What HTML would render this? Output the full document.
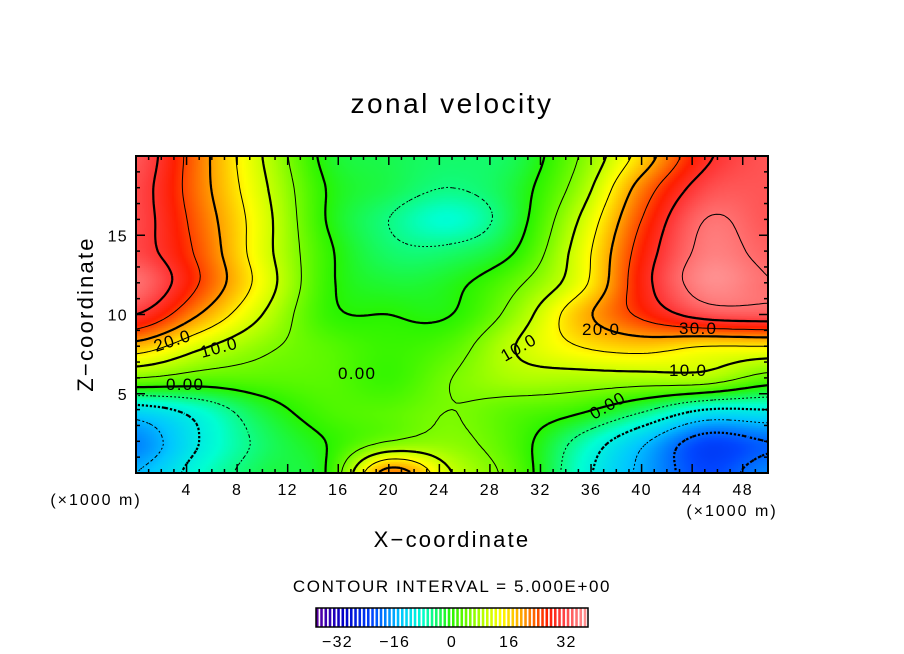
<!DOCTYPE html>
<html><head><meta charset="utf-8">
<style>
html,body{margin:0;padding:0;background:#fff;}
#wrap{position:relative;width:904px;height:654px;overflow:hidden;font-family:"Liberation Sans",sans-serif;}
canvas{position:absolute;}
svg{position:absolute;left:0;top:0;}
svg text{letter-spacing:1.3px;}
</style></head>
<body>
<div id="wrap">
<canvas id="field" width="632" height="317" style="left:136px;top:156px"></canvas>
<svg id="ov" width="904" height="654">
<text x="452" y="113" font-size="28" text-anchor="middle" style="letter-spacing:2.5px">zonal velocity</text>
<text transform="translate(93,314) rotate(-90)" font-size="22" text-anchor="middle" style="letter-spacing:2.2px">Z−coordinate</text>
<text x="452" y="547" font-size="22" text-anchor="middle" style="letter-spacing:2.2px">X−coordinate</text>
<text x="96" y="505" font-size="16" text-anchor="middle" style="letter-spacing:2px">(×1000 m)</text>
<text x="732" y="516" font-size="16" text-anchor="middle" style="letter-spacing:2px">(×1000 m)</text>
<text x="452" y="592" font-size="17" text-anchor="middle" style="letter-spacing:1.6px">CONTOUR INTERVAL = 5.000E+00</text>
<g id="contours"></g>
<g id="clabels" font-size="17">
<text transform="translate(156,352) rotate(-18)">20.0</text>
<text transform="translate(202,358) rotate(-15)">10.0</text>
<text x="166" y="390">0.00</text>
<text x="338" y="379">0.00</text>
<text transform="translate(505,362) rotate(-30)">10.0</text>
<text x="582" y="335">20.0</text>
<text x="679" y="334">30.0</text>
<text x="669" y="376">10.0</text>
<text transform="translate(594,420) rotate(-30)">0.00</text>
</g>
<rect x="136" y="156" width="632" height="317" fill="none" stroke="#000" stroke-width="2"/>
<g id="ticks"></g>
<g id="cbar"></g>
</svg>
</div>
<script>
const xCoords=[0,5,10,15,20,25,30,35,40,45,50];
const zCoords=[20,18,16,14,12,10,8,6,4,2,0];
const U=[
[33,22,10,-1,-3,-4,-3,5,17,29,33],
[32,22,11,0,-3,-5,-2,7,22,32,33],
[32,23,12,0,-5,-8,-2,10,25,35,33],
[32,24,12,1,-4,-4,0,12,27,36,34],
[35,25,13,1,-2,-1,4,13,28,37,35],
[30,20,10,1,0,0,7,18,26,32,33],
[18,11,6,3,1,3,10,15,17,15,15],
[5,3,3,3,1,5,8,8,8,8,3],
[-12,-8,-2,2,3,5,3,1,-4,-10,-10],
[-18,-10,-4,0,5,6,2,-6,-14,-22,-20],
[-15,-8,-3,0,22,10,3,-8,-16,-22,-18]];
const xTicks=[4,8,12,16,20,24,28,32,36,40,44,48];
const zTicks=[5,10,15];
const cbTicks=[-32,-16,0,16,32];
const cStops=[[-38,[96,0,160]],[-30,[0,0,200]],[-22,[0,70,255]],[-14,[0,200,255]],[-8,[0,255,210]],[0,[40,245,0]],[8,[170,255,0]],[14,[255,255,0]],[20,[255,160,0]],[27,[255,30,0]],[31,[255,60,60]],[38,[255,150,150]]];
const X0=136,X1=768,Y0=156,Y1=473,XMAX=50,ZMAX=20;
const sx=x=>X0+(X1-X0)*x/XMAX, sz=z=>Y1-(Y1-Y0)*z/ZMAX;
function color(v){
 if(v<=cStops[0][0])return cStops[0][1];
 for(let i=1;i<cStops.length;i++){if(v<=cStops[i][0]){const a=cStops[i-1],b=cStops[i];const t=(v-a[0])/(b[0]-a[0]);return a[1].map((c,k)=>Math.round(c+(b[1][k]-c)*t));}}
 return cStops[cStops.length-1][1];
}
function cr(p0,p1,p2,p3,t){return 0.5*((2*p1)+(-p0+p2)*t+(2*p0-5*p1+4*p2-p3)*t*t+(-p0+3*p1-3*p2+p3)*t*t*t);}
const nc=xCoords.length,nr=zCoords.length;
function g(r,c){r=Math.max(0,Math.min(nr-1,r));c=Math.max(0,Math.min(nc-1,c));return U[r][c];}
function sample(x,z){
 const fx=x/(xCoords[1]-xCoords[0]), fr=(zCoords[0]-z)/(zCoords[0]-zCoords[1]);
 const c=Math.min(nc-2,Math.floor(fx)), r=Math.min(nr-2,Math.floor(fr));
 const tx=fx-c, tr=fr-r; const rows=[];
 for(let k=-1;k<=2;k++)rows.push(cr(g(r+k,c-1),g(r+k,c),g(r+k,c+1),g(r+k,c+2),tx));
 return cr(rows[0],rows[1],rows[2],rows[3],tr);
}
const cv=document.getElementById('field'),ctx=cv.getContext('2d');
const W=632,H=317,img=ctx.createImageData(W,H);
for(let py=0;py<H;py+=2)for(let px=0;px<W;px+=2){
 const v=sample(px/W*XMAX,(1-py/H)*ZMAX),c=color(v);
 for(let dy=0;dy<2&&py+dy<H;dy++)for(let dx=0;dx<2&&px+dx<W;dx++){const o=((py+dy)*W+px+dx)*4;img.data[o]=c[0];img.data[o+1]=c[1];img.data[o+2]=c[2];img.data[o+3]=255;}
}
ctx.putImageData(img,0,0);
const NS='http://www.w3.org/2000/svg';
const st=4,NX=Math.floor(W/st)+1,NY=Math.floor(H/st)+1;const V=[];
for(let j=0;j<NY;j++){V.push([]);for(let i=0;i<NX;i++){const px=Math.min(W,i*st),py=Math.min(H,j*st);V[j].push(sample(px/W*XMAX,(1-py/H)*ZMAX));}}
const cg=document.getElementById('contours');
for(let L=-35;L<=35;L+=5){
 let d='';
 for(let j=0;j<NY-1;j++)for(let i=0;i<NX-1;i++){
  const px0=X0+Math.min(W,i*st),px1=X0+Math.min(W,(i+1)*st),py0=Y0+Math.min(H,j*st),py1=Y0+Math.min(H,(j+1)*st);
  const a=V[j][i],b=V[j][i+1],c=V[j+1][i+1],e=V[j+1][i];
  const pts=[];
  if((a<L)!==(b<L))pts.push([px0+(px1-px0)*(L-a)/(b-a),py0]);
  if((b<L)!==(c<L))pts.push([px1,py0+(py1-py0)*(L-b)/(c-b)]);
  if((e<L)!==(c<L))pts.push([px0+(px1-px0)*(L-e)/(c-e),py1]);
  if((a<L)!==(e<L))pts.push([px0,py0+(py1-py0)*(L-a)/(e-a)]);
  for(let k=0;k+1<pts.length;k+=2)d+='M'+pts[k][0].toFixed(1)+' '+pts[k][1].toFixed(1)+'L'+pts[k+1][0].toFixed(1)+' '+pts[k+1][1].toFixed(1);
 }
 if(!d)continue;
 const p=document.createElementNS(NS,'path');
 
 
 p.setAttribute('d',d);p.setAttribute('fill','none');p.setAttribute('stroke','#000');
 p.setAttribute('stroke-width',L%10===0?2.2:1);
 if(L<0)p.setAttribute('stroke-dasharray',L%10===0?'2.2,1.8':'1.8,2.2');
 cg.appendChild(p);
}
const tg=document.getElementById('ticks');
function line(x1,y1,x2,y2,w,name){const l=document.createElementNS(NS,'line');l.setAttribute('x1',x1);l.setAttribute('y1',y1);l.setAttribute('x2',x2);l.setAttribute('y2',y2);l.setAttribute('stroke','#000');l.setAttribute('stroke-width',w);
 
 
 tg.appendChild(l);}
function txt(x,y,s,name,parent,anchor){const t=document.createElementNS(NS,'text');t.setAttribute('x',x);t.setAttribute('y',y);t.setAttribute('font-size','16');t.setAttribute('text-anchor',anchor||'middle');t.textContent=s;
 
 
 parent.appendChild(t);}
for(let x=1;x<XMAX;x++){const len=x%4===0?9:4;line(sx(x),Y1,sx(x),Y1-len,1.5,'x-tick');line(sx(x),Y0,sx(x),Y0+len,1.5,'x-tick-top');}
for(let z=1;z<ZMAX;z++){const len=z%5===0?9:4;line(X0,sz(z),X0+len,sz(z),1.5,'z-tick');line(X1,sz(z),X1-len,sz(z),1.5,'z-tick-right');}
xTicks.forEach(x=>txt(sx(x),495,String(x),'x-tick-label',tg));
zTicks.forEach(z=>txt(X0-8,sz(z)+6,String(z),'z-tick-label',tg,'end'));
const cb=document.getElementById('cbar');
const CB0=316,CB1=588,CBY=608,CBH=19,VMIN=-38,VMAX=38,N=64;
const bw=(CB1-CB0)/N;
for(let k=0;k<N;k++){const v=VMIN+(k+0.5)*(VMAX-VMIN)/N,c=color(v);const r=document.createElementNS(NS,'rect');
 r.setAttribute('x',CB0+k*bw);r.setAttribute('y',CBY);r.setAttribute('width',bw*0.6);r.setAttribute('height',CBH);r.setAttribute('fill','rgb('+c.join(',')+')');
 
 
 cb.appendChild(r);}
const fr=document.createElementNS(NS,'rect');fr.setAttribute('x',CB0);fr.setAttribute('y',CBY);fr.setAttribute('width',CB1-CB0);fr.setAttribute('height',CBH);fr.setAttribute('fill','none');fr.setAttribute('stroke','#000');fr.setAttribute('stroke-width','1.5');


cb.appendChild(fr);
cbTicks.forEach(v=>txt(CB0+(v-VMIN)/(VMAX-VMIN)*(CB1-CB0),647,v<0?'−'+(-v):String(v),'colorbar-label',cb));
</script>
</body></html>
